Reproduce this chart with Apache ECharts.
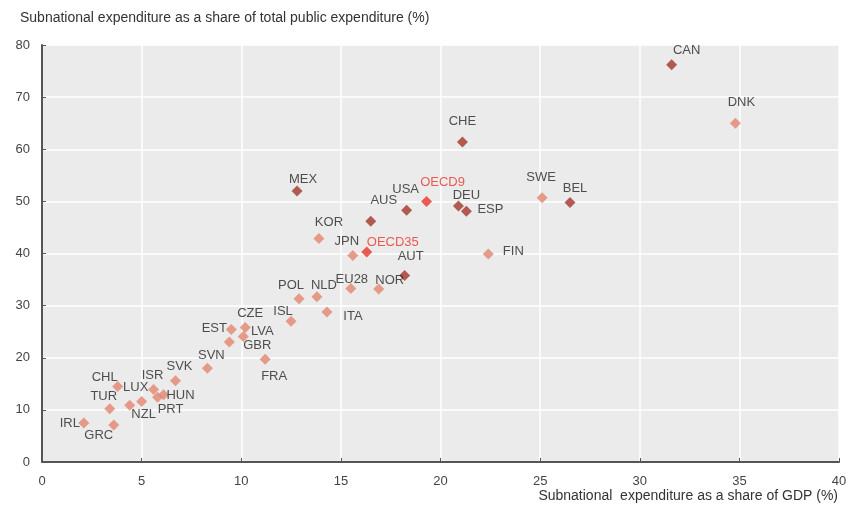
<!DOCTYPE html>
<html>
<head>
<meta charset="utf-8">
<script src="https://cdn.jsdelivr.net/npm/echarts@6/dist/echarts.min.js"></script>
<style>html,body{margin:0;padding:0;background:#fff;}#c{width:854px;height:515px;}</style>
</head>
<body>
<div id="c"></div>
<script>
// ---- data ----
var countries = ['CAN','DNK','CHE','MEX','AUS','USA','OECD9','DEU','ESP','SWE','BEL','KOR','JPN','OECD35','AUT','FIN','EU28','NOR','POL','NLD','ITA','ISL','CZE','EST','LVA','GBR','FRA','SVN','SVK','CHL','LUX','ISR','HUN','PRT','NZL','TUR','IRL','GRC'];
var gdpShare = [31.6,34.8,21.1,12.8,16.5,18.3,19.3,20.9,21.3,25.1,26.5,13.9,15.6,16.3,18.2,22.4,15.5,16.9,12.9,13.8,14.3,12.5,10.2,9.5,10.1,9.4,11.2,8.3,6.7,3.8,4.4,5.6,6.1,5.8,5.0,3.4,2.1,3.6];
var expShare = [76.2,65.0,61.4,52.0,46.2,48.3,50.0,49.1,48.1,50.7,49.8,42.9,39.6,40.3,35.8,39.9,33.3,33.2,31.3,31.7,28.8,27.0,25.8,25.4,24.1,23.0,19.7,18.0,15.6,14.5,10.9,13.9,12.9,12.4,11.6,10.2,7.5,7.1];
var groups = ['fed','uni','fed','fed','fed','fed','oecd','fed','fed','uni','fed','uni','uni','oecd','fed','uni','uni','uni','uni','uni','uni','uni','uni','uni','uni','uni','uni','uni','uni','uni','uni','uni','uni','uni','uni','uni','uni','uni'];
var xTicks = [0,5,10,15,20,25,30,35,40];
var yTicks = [0,10,20,30,40,50,60,70,80];

// ---- styling ----
var FONT = 'Liberation Sans, Arial, sans-serif';
var colors = { fed: '#a2362b', uni: '#e3866e', oecd: '#e8342b' };
var labelOffsets = {
  CAN:[15,-14], DNK:[6,-21], CHE:[0,-21], MEX:[6,-12], AUS:[13,-21], USA:[-1,-21],
  OECD9:[16,-19], DEU:[8,-11], ESP:[24,-2], SWE:[-1,-20], BEL:[5,-14], KOR:[10,-16],
  JPN:[-6,-14], OECD35:[26,-10], AUT:[6,-19], FIN:[25,-3], EU28:[1,-9], NOR:[11,-9],
  POL:[-8,-13], NLD:[7,-11], ITA:[26,5], ISL:[-8,-10], CZE:[5,-14], EST:[-17,-1],
  LVA:[19,-5], GBR:[28,3], FRA:[9,17], SVN:[4,-13], SVK:[4,-14], CHL:[-13,-9],
  LUX:[6,-18], ISR:[-1,-14], HUN:[17,1], PRT:[13,12], NZL:[2,13], TUR:[-6,-12],
  IRL:[-14,1], GRC:[-15,10]
};

var points = countries.map(function(n, i){
  var g = groups[i];
  return {
    name: n,
    value: [gdpShare[i], expShare[i]],
    itemStyle: { color: colors[g] },
    label: { color: g === 'oecd' ? '#e8342b' : '#262626' }
  };
});

var chart = echarts.init(document.getElementById('c'), null, {renderer: 'canvas'});
chart.setOption({
  animation: false,
  backgroundColor: '#ffffff',
  grid: { left: 42, right: 15, top: 45, bottom: 53, show: true, backgroundColor: '#ebebeb', borderWidth: 0 },
  xAxis: {
    type: 'value', min: xTicks[0], max: xTicks[xTicks.length-1], interval: 5,
    axisLine: { show: true, onZero: false, lineStyle: { color: '#555', width: 2 } },
    axisTick: { show: true, inside: true, length: 4, lineStyle: { color: '#555' } },
    axisLabel: { color: '#444', fontSize: 13, margin: 13, fontFamily: FONT },
    splitLine: { show: true, lineStyle: { color: '#ffffff', width: 1.5 } }
  },
  yAxis: {
    type: 'value', min: yTicks[0], max: yTicks[yTicks.length-1], interval: 10,
    axisLine: { show: true, onZero: false, lineStyle: { color: '#555', width: 2 } },
    axisTick: { show: true, inside: true, length: 4, lineStyle: { color: '#555' } },
    axisLabel: { color: '#444', fontSize: 13, margin: 12, fontFamily: FONT },
    splitLine: { show: true, lineStyle: { color: '#ffffff', width: 1.5 } }
  },
  graphic: [
    { type: 'text', left: 20, top: 11, style: { text: 'Subnational expenditure as a share of total public expenditure (%)', fill: '#333', font: '14px ' + FONT } },
    { type: 'text', right: 16, top: 489, style: { text: 'Subnational  expenditure as a share of GDP (%)', fill: '#333', font: '14px ' + FONT } }
  ],
  series: [{
    type: 'scatter', symbol: 'diamond', symbolSize: 11,
    label: { show: true, formatter: '{b}', position: 'inside', fontSize: 13, fontFamily: FONT },
    data: points,
    labelLayout: function (params) {
      var off = labelOffsets[countries[params.dataIndex]] || [0, -14];
      return { dx: off[0], dy: off[1], hideOverlap: false };
    }
  }]
});
</script>
</body>
</html>
